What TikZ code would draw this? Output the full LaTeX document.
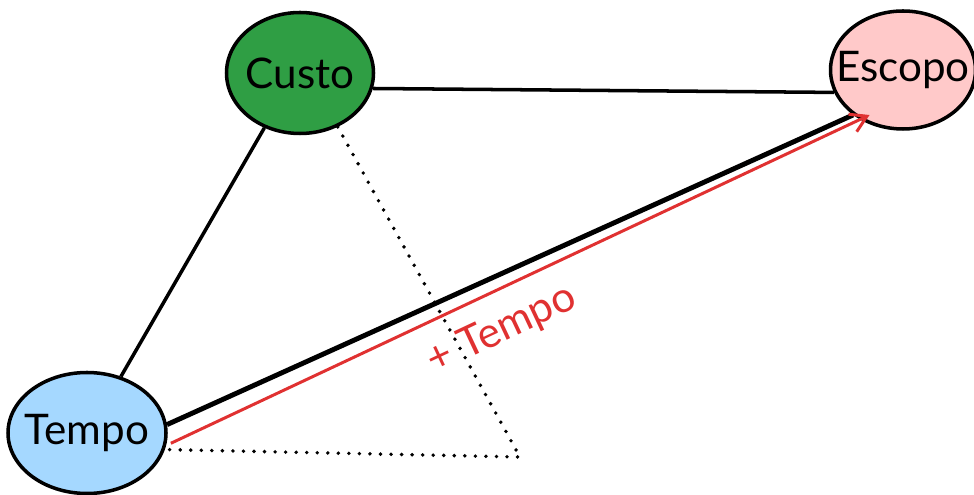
\documentclass[tikz,border=0pt]{standalone}
\usepackage{fontspec}
\setmainfont{Lato}
\usetikzlibrary{shapes.geometric,arrows.meta}
\begin{document}
\begin{tikzpicture}[
  bubble/.style={ellipse,draw,line width=2pt,inner sep=0pt,inner xsep=-12pt,font=\fontsize{24}{28}\selectfont},
  link/.style={line width=2pt},
  dots/.style={line width=2.2pt,line cap=round,dash pattern=on 0pt off 6pt}]
\useasboundingbox (0,0) rectangle (19.48,9.9);
\definecolor{custog}{HTML}{2F9E44}
\definecolor{escopop}{HTML}{FFC9C9}
\definecolor{tempob}{HTML}{A5D8FF}
\definecolor{redline}{HTML}{E03131}
\node[bubble,fill=custog,minimum width=2.94cm,minimum height=2.42cm] (custo) at (6.0,8.44) {Custo};
\node[bubble,fill=escopop,minimum width=2.9cm,minimum height=2.36cm] (escopo) at (18.06,8.5) {Escopo};
\node[bubble,fill=tempob,minimum width=3.16cm,minimum height=2.42cm] (tempo) at (1.74,1.24) {Tempo};
\coordinate (corner) at (10.4,0.76);
\draw[link] (custo.-12) -- (escopo.198);
\draw[link] (custo.237) -- (tempo.59);
\draw[line width=2.8pt] (tempo.6) -- (escopo.222);
\draw[dots] (custo.-55) -- (corner) -- (tempo.-12);
\draw[redline,line width=1.7pt,-{Straight Barb[length=9pt,width=11pt]},shorten <=3pt,shorten >=-6pt]
  (tempo.-9) -- (escopo.229)
  node[pos=.46,sloped,below=7pt,font=\fontsize{24}{28}\selectfont] {+ Tempo};
\end{tikzpicture}
\end{document}
